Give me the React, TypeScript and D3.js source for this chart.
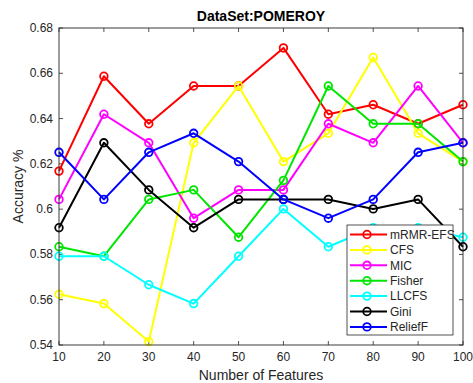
import React from "react";
import * as d3 from "d3";

const featureCounts = [10, 20, 30, 40, 50, 60, 70, 80, 90, 100];
const seriesNames = ["mRMR-EFS", "CFS", "MIC", "Fisher", "LLCFS", "Gini", "ReliefF"];
const seriesColors = ["#ff0000", "#ffff00", "#ff00ff", "#00e600", "#00ffff", "#000000", "#0000ff"];

const mrmrEfs = [0.6168, 0.6587, 0.6377, 0.6544, 0.6544, 0.6712, 0.6419, 0.6461, 0.6377, 0.6461];
const cfs = [0.5624, 0.5583, 0.5415, 0.6293, 0.6544, 0.6210, 0.6335, 0.6670, 0.6335, 0.6210];
const mic = [0.6043, 0.6419, 0.6293, 0.5960, 0.6085, 0.6085, 0.6377, 0.6293, 0.6544, 0.6293];
const fisher = [0.5834, 0.5792, 0.6043, 0.6085, 0.5876, 0.6127, 0.6544, 0.6377, 0.6377, 0.6210];
const llcfs = [0.5792, 0.5792, 0.5666, 0.5583, 0.5792, 0.6001, 0.5834, 0.5918, 0.5918, 0.5876];
const gini = [0.5918, 0.6293, 0.6085, 0.5918, 0.6043, 0.6043, 0.6043, 0.6001, 0.6043, 0.5834];
const reliefF = [0.6251, 0.6043, 0.6251, 0.6335, 0.6210, 0.6043, 0.5960, 0.6043, 0.6251, 0.6293];

const allSeries = [mrmrEfs, cfs, mic, fisher, llcfs, gini, reliefF];
const yTicks = [0.54, 0.56, 0.58, 0.6, 0.62, 0.64, 0.66, 0.68];
const xTicks = featureCounts;

const W = 473;
const H = 383;
const left = 59;
const right = 463;
const top = 28;
const bottom = 345;
const font = "'Liberation Sans', Arial, Helvetica, sans-serif";
const axisColor = "#262626";
const textColor = "#262626";

export default function App() {
  const x = d3.scaleLinear().domain([10, 100]).range([left, right]);
  const y = d3.scaleLinear().domain([0.54, 0.68]).range([bottom, top]);
  const line = d3
    .line<number>()
    .x((_, i) => x(featureCounts[i]))
    .y((d) => y(d));

  const fmtY = (v: number) => String(+v.toFixed(2));

  const legX = 347;
  const legY = 225;
  const legW = 106;
  const legH = 110;
  const rowH = 15.4;

  return (
    <svg
      width={W}
      height={H}
      style={{ position: "absolute", left: 0, top: 0, background: "#fff" }}
      fontFamily={font}
    >
      <rect x={0} y={0} width={W} height={H} fill="#fff" />
      <rect x={left} y={top} width={right - left} height={bottom - top} fill="#fff" />

      {/* tick marks, inward on all four sides */}
      {xTicks.map((t) => (
        <g key={"xt" + t}>
          <line x1={x(t)} x2={x(t)} y1={bottom} y2={bottom - 4} stroke={axisColor} strokeWidth={0.8} />
          <line x1={x(t)} x2={x(t)} y1={top} y2={top + 4} stroke={axisColor} strokeWidth={0.8} />
          <text x={x(t)} y={bottom + 16} fontSize={12} textAnchor="middle" fill={textColor}>
            {t}
          </text>
        </g>
      ))}
      {yTicks.map((t) => (
        <g key={"yt" + t}>
          <line x1={left} x2={left + 4} y1={y(t)} y2={y(t)} stroke={axisColor} strokeWidth={0.8} />
          <line x1={right} x2={right - 4} y1={y(t)} y2={y(t)} stroke={axisColor} strokeWidth={0.8} />
          <text x={left - 6} y={y(t) + 4} fontSize={12} textAnchor="end" fill={textColor}>
            {fmtY(t)}
          </text>
        </g>
      ))}

      {/* series */}
      {allSeries.map((s, k) => (
        <g key={seriesNames[k]}>
          <path d={line(s) || ""} fill="none" stroke={seriesColors[k]} strokeWidth={2} strokeLinejoin="round" />
          {s.map((v, i) => (
            <circle
              key={i}
              cx={x(featureCounts[i])}
              cy={y(v)}
              r={3.8}
              fill="none"
              stroke={seriesColors[k]}
              strokeWidth={1.8}
            />
          ))}
        </g>
      ))}

      <rect
        x={left}
        y={top}
        width={right - left}
        height={bottom - top}
        fill="none"
        stroke={axisColor}
        strokeWidth={0.9}
      />

      {/* legend */}
      <rect x={legX} y={legY} width={legW} height={legH} fill="#fff" stroke={axisColor} strokeWidth={0.8} />
      {seriesNames.map((n, k) => {
        const cy = legY + 9.5 + k * rowH;
        return (
          <g key={"leg" + n}>
            <line x1={legX + 3} x2={legX + 40} y1={cy} y2={cy} stroke={seriesColors[k]} strokeWidth={2} />
            <circle cx={legX + 20} cy={cy} r={3.8} fill="none" stroke={seriesColors[k]} strokeWidth={1.8} />
            <text x={legX + 43} y={cy + 4.3} fontSize={12} fill={textColor}>
              {n}
            </text>
          </g>
        );
      })}

      {/* titles */}
      <text x={(left + right) / 2} y={21} fontSize={14} fontWeight="bold" textAnchor="middle" fill="#000">
        DataSet:POMEROY
      </text>
      <text x={(left + right) / 2} y={380} fontSize={14} textAnchor="middle" fill={textColor}>
        Number of Features
      </text>
      <text
        transform={`translate(23,${(top + bottom) / 2}) rotate(-90)`}
        fontSize={14}
        textAnchor="middle"
        fill={textColor}
      >
        Accuracy %
      </text>
    </svg>
  );
}
